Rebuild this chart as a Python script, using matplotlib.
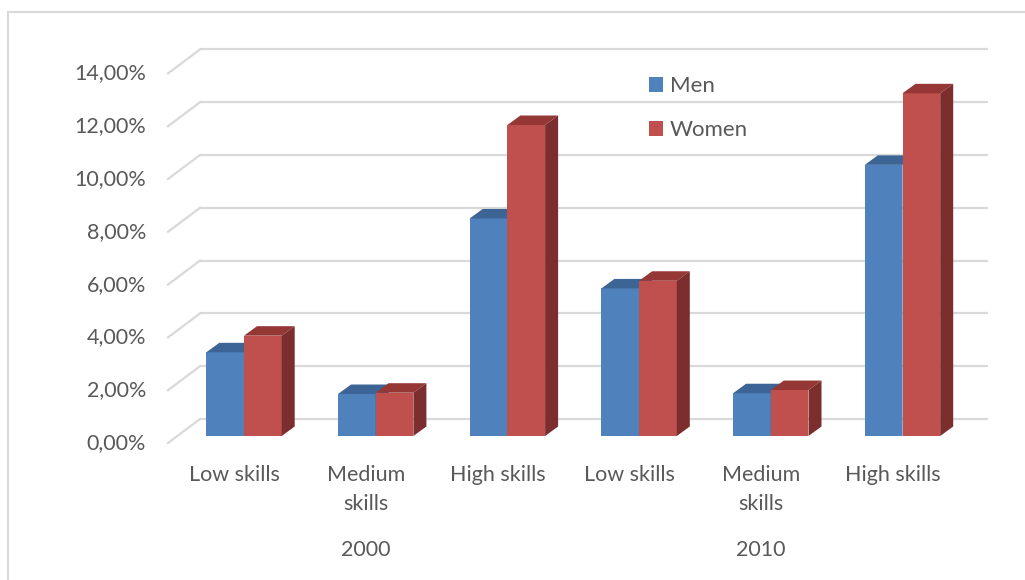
import numpy as np
import matplotlib.pyplot as plt
from matplotlib.patches import Polygon, Rectangle, Patch

plt.rcParams['font.family'] = ['Lato', 'DejaVu Sans']

# data: share of each group (percent)
years = ['2000', '2010']
skills = ['Low skills', 'Medium\nskills', 'High skills']
men = [3.17, 1.59, 8.24, 5.59, 1.62, 10.27]
women = [3.80, 1.64, 11.78, 5.88, 1.74, 12.98]
yticks = [0, 2, 4, 6, 8, 10, 12, 14]

blue = ('#4F81BD', '#3C6494', '#385D8A')
red = ('#C0504D', '#953735', '#7B2E2D')
grid_c = '#D9D9D9'
text_c = '#595959'

W, H = 1025, 580
fig = plt.figure(figsize=(W / 100, H / 100), dpi=100)
ax = fig.add_axes([0, 0, 1, 1])
ax.axis('off')

# one category = 131.7 px, 1 % = 26.4 px; bar plane origin at (244, 436) px
cat_px, pct_px = 131.7, 26.4
x0_px, y0_px = 244, 436
ax.set_xlim(-x0_px / cat_px, (W - x0_px) / cat_px)
ax.set_ylim((y0_px - H) / pct_px, y0_px / pct_px)

# oblique depth offsets (data units)
bdx, bdy = 13 / cat_px, 9.5 / pct_px          # bar depth
wdy = 17 / pct_px                             # bar plane -> back wall
fdx, fdy = -9.3 / cat_px, -7 / pct_px         # bar plane -> front edge
left_front, left_back = -0.577, -0.334
right_end = (988 - x0_px) / cat_px

# gridlines: back wall + left wall diagonal
for v in yticks:
    ax.plot([left_back, right_end], [v + wdy, v + wdy], color=grid_c,
            lw=1.6, zorder=1, solid_capstyle='butt')
    ax.plot([left_front, left_back], [v + fdy, v + wdy], color=grid_c,
            lw=1.6, zorder=1)
    ax.text(left_front - 22 / cat_px, v + fdy, f'{v:.2f}%'.replace('.', ','),
            ha='right', va='center', fontsize=15.5, color=text_c)


def bar3d(x, w, h, cols, z):
    front, top, side = cols
    ax.add_patch(Rectangle((x, 0), w, h, facecolor=front, edgecolor='none',
                           zorder=z))
    ax.add_patch(Polygon([(x, h), (x + w, h), (x + w + bdx, h + bdy),
                          (x + bdx, h + bdy)], closed=True, facecolor=top,
                         edgecolor='none', zorder=z))
    ax.add_patch(Polygon([(x + w, 0), (x + w + bdx, bdy), (x + w + bdx, h + bdy),
                          (x + w, h)], closed=True, facecolor=side,
                         edgecolor='none', zorder=z))


bw = 37.7 / cat_px
labels = skills * len(years)
for i in range(len(men)):
    bar3d(i - bw, bw, men[i], blue, 3 + 2 * i)
    bar3d(i, bw, women[i], red, 4 + 2 * i)
    ax.text(i + fdx - 0.005, -29 / pct_px, labels[i], ha='center', va='top',
            fontsize=15.5, color=text_c, linespacing=1.58)

for k, yr in enumerate(years):
    ax.text(1 + 3 * k + fdx - 0.005, -114 / pct_px, yr, ha='center',
            va='center', fontsize=15.5, color=text_c)

handles = [Patch(facecolor=blue[0], label='Men'),
           Patch(facecolor=red[0], label='Women')]
ax.legend(handles=handles, loc='upper left', frameon=False, fontsize=16,
          handlelength=0.65, handleheight=0.65, handletextpad=0.3,
          labelspacing=1.1, labelcolor=text_c,
          bbox_to_anchor=(629 / W, 1 - 56 / H), bbox_transform=fig.transFigure)

# chart area border
fig.patches.append(Rectangle((8 / W, -0.1), 1.2, 1.1 - 12 / H,
                             transform=fig.transFigure, fill=False,
                             edgecolor=grid_c, lw=1.5))

fig.savefig('out.png', dpi=100)
